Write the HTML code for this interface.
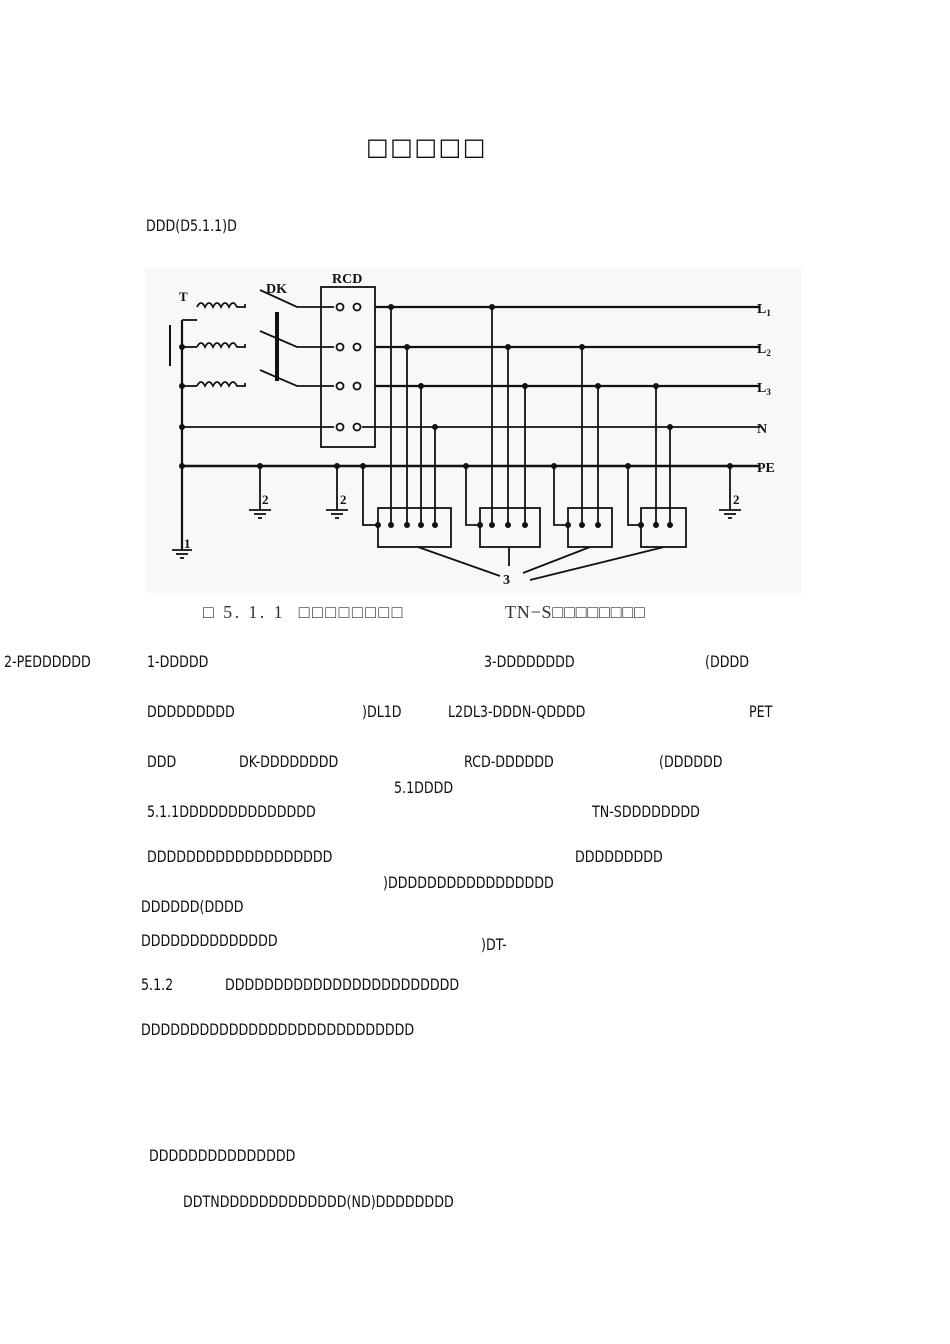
<!DOCTYPE html>
<html><head><meta charset="utf-8"><style>
body{margin:0;background:#fff;}
#p{position:relative;width:950px;height:1344px;overflow:hidden;background:#fff;}
.t{position:absolute;font-family:"DejaVu Sans Condensed","DejaVu Sans","Liberation Sans",sans-serif;font-size:16px;line-height:20px;color:#111;white-space:pre;transform:scaleX(0.88);transform-origin:0 0;}
.cap{position:absolute;font-family:"Liberation Serif","DejaVu Serif",serif;font-size:18px;line-height:22px;color:#333;white-space:pre;}
.title{position:absolute;left:366px;top:133px;font-family:"DejaVu Sans",sans-serif;font-size:24px;line-height:28px;letter-spacing:1.5px;color:#111;}
svg text{font-family:"Liberation Serif",serif;font-weight:bold;}
</style></head><body><div id="p">
<div class="title">□□□□□</div>
<div class="t" style="left:146px;top:216px">DDD(D5.1.1)D</div>

<svg style="position:absolute;left:0;top:0" width="950" height="1344">
<rect x="145" y="268" width="657" height="325" fill="#f8f8f6"/>
<g stroke="#111" stroke-width="1.8" fill="none">
<line x1="375" y1="307" x2="760" y2="307" stroke-width="2.2"/>
<line x1="375" y1="347" x2="760" y2="347" stroke-width="2.2"/>
<line x1="375" y1="386" x2="760" y2="386" stroke-width="2.2"/>
<line x1="182" y1="427" x2="334" y2="427"/>
<line x1="362" y1="427" x2="760" y2="427"/>
<line x1="182" y1="466" x2="760" y2="466" stroke-width="2.4"/>
<line x1="182" y1="320" x2="182" y2="550" stroke-width="2.2"/>
<line x1="182" y1="320" x2="197" y2="320"/>
<line x1="170" y1="325" x2="170" y2="366" stroke-width="2"/>
<line x1="182" y1="347" x2="197" y2="347"/>
<line x1="182" y1="386" x2="197" y2="386"/>
<path d="M197 307 q4 -8 8 0 q4 -8 8 0 q4 -8 8 0 q4 -8 8 0 q4 -8 8 0 l8 0 l0 -3"/>
<path d="M197 347 q4 -8 8 0 q4 -8 8 0 q4 -8 8 0 q4 -8 8 0 q4 -8 8 0 l8 0 l0 -3"/>
<path d="M197 386 q4 -8 8 0 q4 -8 8 0 q4 -8 8 0 q4 -8 8 0 q4 -8 8 0 l8 0 l0 -3"/>
<path d="M260 290 L297 307 L334 307"/>
<path d="M260 331 L297 347 L334 347"/>
<path d="M260 370 L297 386 L334 386"/>
<line x1="277" y1="312" x2="277" y2="381" stroke-width="4"/>
<rect x="321" y="287" width="54" height="160"/>
<g fill="#fff"><circle cx="340" cy="307" r="3.5"/><circle cx="357" cy="307" r="3.5"/>
<circle cx="340" cy="347" r="3.5"/><circle cx="357" cy="347" r="3.5"/>
<circle cx="340" cy="386" r="3.5"/><circle cx="357" cy="386" r="3.5"/>
<circle cx="340" cy="427" r="3.5"/><circle cx="357" cy="427" r="3.5"/></g>
<line x1="391" y1="307" x2="391" y2="525"/><line x1="407" y1="347" x2="407" y2="525"/>
<line x1="421" y1="386" x2="421" y2="525"/><line x1="435" y1="427" x2="435" y2="525"/>
<line x1="492" y1="307" x2="492" y2="525"/><line x1="508" y1="347" x2="508" y2="525"/>
<line x1="525" y1="386" x2="525" y2="525"/>
<line x1="582" y1="347" x2="582" y2="525"/><line x1="598" y1="386" x2="598" y2="525"/>
<line x1="656" y1="386" x2="656" y2="525"/><line x1="670" y1="427" x2="670" y2="525"/>
<path d="M363 466 V525 H378"/><path d="M466 466 V525 H480"/>
<path d="M554 466 V525 H568"/><path d="M628 466 V525 H641"/>
<rect x="378" y="508" width="73" height="39"/><rect x="480" y="508" width="60" height="39"/>
<rect x="568" y="508" width="44" height="39"/><rect x="641" y="508" width="45" height="39"/>
<line x1="418" y1="547" x2="500" y2="576"/><line x1="509" y1="547" x2="509" y2="566"/>
<line x1="590" y1="547" x2="523" y2="573"/><line x1="664" y1="547" x2="530" y2="580"/>
<line x1="260" y1="466" x2="260" y2="510"/><line x1="337" y1="466" x2="337" y2="510"/><line x1="730" y1="466" x2="730" y2="510"/>
<line x1="249" y1="510" x2="271" y2="510"/><line x1="254" y1="514" x2="266" y2="514"/><line x1="258" y1="518" x2="262" y2="518"/>
<line x1="326" y1="510" x2="348" y2="510"/><line x1="331" y1="514" x2="343" y2="514"/><line x1="335" y1="518" x2="339" y2="518"/>
<line x1="719" y1="510" x2="741" y2="510"/><line x1="724" y1="514" x2="736" y2="514"/><line x1="728" y1="518" x2="732" y2="518"/>
<line x1="172" y1="550" x2="192" y2="550"/><line x1="176" y1="554" x2="188" y2="554"/><line x1="180" y1="558" x2="184" y2="558"/>
</g>
<g fill="#111">
<circle cx="182" cy="347" r="3"/><circle cx="182" cy="386" r="3"/><circle cx="182" cy="427" r="3"/><circle cx="182" cy="466" r="3"/>
<circle cx="391" cy="307" r="3"/><circle cx="492" cy="307" r="3"/>
<circle cx="407" cy="347" r="3"/><circle cx="508" cy="347" r="3"/><circle cx="582" cy="347" r="3"/>
<circle cx="421" cy="386" r="3"/><circle cx="525" cy="386" r="3"/><circle cx="598" cy="386" r="3"/><circle cx="656" cy="386" r="3"/>
<circle cx="435" cy="427" r="3"/><circle cx="670" cy="427" r="3"/>
<circle cx="260" cy="466" r="3"/><circle cx="337" cy="466" r="3"/><circle cx="363" cy="466" r="3"/><circle cx="466" cy="466" r="3"/>
<circle cx="554" cy="466" r="3"/><circle cx="628" cy="466" r="3"/><circle cx="730" cy="466" r="3"/>
<circle cx="378" cy="525" r="3"/><circle cx="391" cy="525" r="3"/><circle cx="407" cy="525" r="3"/><circle cx="421" cy="525" r="3"/><circle cx="435" cy="525" r="3"/>
<circle cx="480" cy="525" r="3"/><circle cx="492" cy="525" r="3"/><circle cx="508" cy="525" r="3"/><circle cx="525" cy="525" r="3"/>
<circle cx="568" cy="525" r="3"/><circle cx="582" cy="525" r="3"/><circle cx="598" cy="525" r="3"/>
<circle cx="641" cy="525" r="3"/><circle cx="656" cy="525" r="3"/><circle cx="670" cy="525" r="3"/>
<text x="179" y="301" font-size="13">T</text>
<text x="266" y="293" font-size="14">DK</text>
<text x="332" y="283" font-size="14">RCD</text>
<text x="757" y="313" font-size="14">L<tspan font-size="9" dy="3">1</tspan></text>
<text x="757" y="353" font-size="14">L<tspan font-size="9" dy="3">2</tspan></text>
<text x="757" y="392" font-size="14">L<tspan font-size="9" dy="3">3</tspan></text>
<text x="757" y="433" font-size="14">N</text>
<text x="757" y="472" font-size="14">PE</text>
<text x="262" y="504" font-size="13">2</text>
<text x="340" y="504" font-size="13">2</text>
<text x="733" y="504" font-size="13">2</text>
<text x="184" y="548" font-size="13">1</text>
<text x="503" y="584" font-size="14">3</text>
</g>
</svg>

<div class="cap" style="left:203px;top:601px;letter-spacing:2.4px">□ 5. 1. 1  □□□□□□□□</div>
<div class="cap" style="left:505px;top:601px;letter-spacing:0.8px">TN−S□□□□□□□□</div>

<div class="t" style="left:4px;top:652px">2-PEDDDDDD</div>
<div class="t" style="left:147px;top:652px">1-DDDDD</div>
<div class="t" style="left:484px;top:652px">3-DDDDDDDD</div>
<div class="t" style="left:705px;top:652px">(DDDD</div>
<div class="t" style="left:147px;top:702px">DDDDDDDDD</div>
<div class="t" style="left:362px;top:702px">)DL1D</div>
<div class="t" style="left:448px;top:702px">L2DL3-DDDN-QDDDD</div>
<div class="t" style="left:749px;top:702px">PET</div>
<div class="t" style="left:147px;top:752px">DDD</div>
<div class="t" style="left:239px;top:752px">DK-DDDDDDDD</div>
<div class="t" style="left:464px;top:752px">RCD-DDDDDD</div>
<div class="t" style="left:659px;top:752px">(DDDDDD</div>
<div class="t" style="left:394px;top:778px">5.1DDDD</div>
<div class="t" style="left:147px;top:802px">5.1.1DDDDDDDDDDDDDD</div>
<div class="t" style="left:592px;top:802px">TN-SDDDDDDDD</div>
<div class="t" style="left:147px;top:847px">DDDDDDDDDDDDDDDDDDD</div>
<div class="t" style="left:575px;top:847px">DDDDDDDDD</div>
<div class="t" style="left:383px;top:873px">)DDDDDDDDDDDDDDDDD</div>
<div class="t" style="left:141px;top:897px">DDDDDD(DDDD</div>
<div class="t" style="left:141px;top:931px">DDDDDDDDDDDDDD</div>
<div class="t" style="left:481px;top:935px">)DT-</div>
<div class="t" style="left:141px;top:975px">5.1.2</div>
<div class="t" style="left:225px;top:975px">DDDDDDDDDDDDDDDDDDDDDDDD</div>
<div class="t" style="left:141px;top:1020px">DDDDDDDDDDDDDDDDDDDDDDDDDDDD</div>
<div class="t" style="left:149px;top:1146px">DDDDDDDDDDDDDDD</div>
<div class="t" style="left:183px;top:1192px">DDTNDDDDDDDDDDDDD(ND)DDDDDDDD</div>
</div></body></html>
